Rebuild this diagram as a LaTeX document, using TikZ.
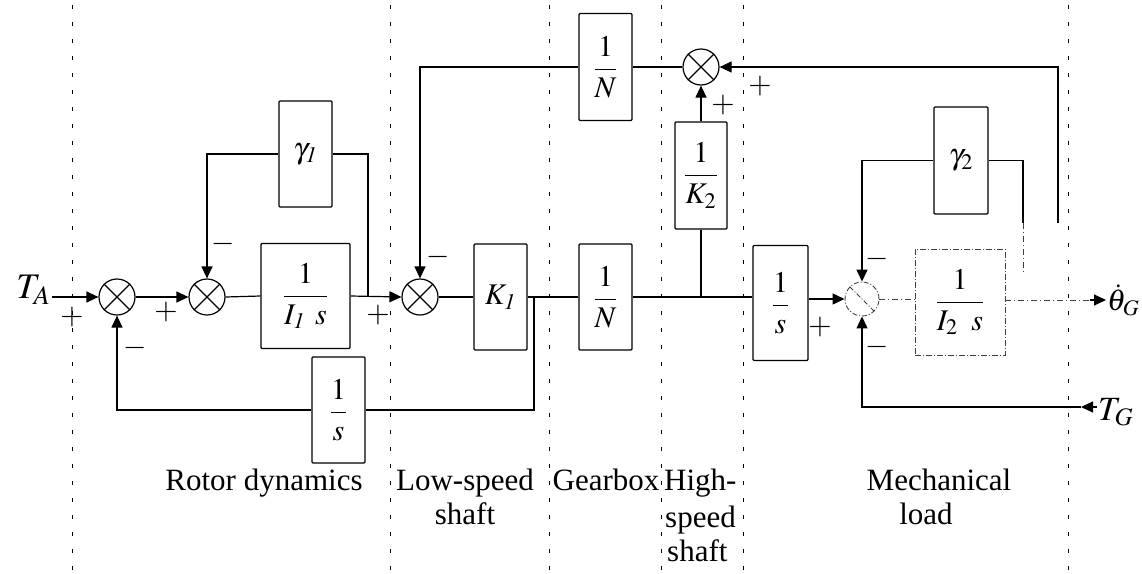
\documentclass[tikz,border=0pt]{standalone}
\usepackage{mathptmx}
\usepackage{graphicx}
\usepackage{fontspec}
\setmainfont{Liberation Serif}
\usetikzlibrary{arrows.meta}
\newcommand{\bxm}[1]{\scalebox{1.5}{\fontsize{20}{24}\selectfont$\displaystyle #1$}}
\newcommand{\iom}[2]{\scalebox{#1}{\fontsize{20}{24}\selectfont$#2$}}
\begin{document}
\begin{tikzpicture}[x=1pt,y=-1pt,
  blk/.style={draw, line width=1.3pt, inner sep=0pt, rounded corners=1pt},
  sumj/.style={draw, circle, line width=1.2pt, minimum size=36pt, inner sep=0pt},
  fsum/.style={draw=black!75, circle, line width=0.9pt, minimum size=34pt, inner sep=0pt, dash pattern=on 5pt off 2pt on 1pt off 2pt},
  fblk/.style={draw=black!75, line width=0.9pt, inner sep=0pt, dash pattern=on 6pt off 2pt on 1pt off 2pt},
  wire/.style={line width=1.2pt},
  fwire/.style={draw=black!75, line width=0.9pt, dash pattern=on 6pt off 3pt on 1pt off 3pt},
  arr/.style={wire, -{Triangle[length=12pt,width=11pt]}},
  sep/.style={line width=1pt, dash pattern=on 4pt off 13pt},
  sgn/.style={font=\fontsize{30}{30}\selectfont, inner sep=0pt},
  io/.style={inner sep=1pt},
  lbl/.style={font=\fontsize{31}{34}\selectfont, anchor=base, inner sep=0pt}
]
\useasboundingbox (0,0) rectangle (1142,573);

% section separators
\foreach \x in {72,390,549,661,743,1068}
  \draw[sep] (\x,5) -- (\x,573);

% blocks
\node[sumj] (s1) at (117,297) {};
\node[sumj] (s2) at (207,297) {};
\node[blk, minimum width=89pt, minimum height=105pt] (bI1) at (305.5,296) {\bxm{\frac{1}{I_{\mathit{1}}\;\,s}}};
\node[blk, minimum width=53pt, minimum height=106pt] (g1) at (305.5,154) {\bxm{\gamma_{\mathit{1}}}};
\node[sumj] (s3) at (420,297) {};
\node[blk, minimum width=53pt, minimum height=106pt] (K1) at (500.5,297) {\bxm{K_{\mathit{1}}}};
\node[blk, minimum width=53pt, minimum height=106pt] (N1) at (605.5,297) {\bxm{\frac{1}{N}}};
\node[blk, minimum width=53pt, minimum height=107pt] (topN) at (605.5,67) {\bxm{\frac{1}{N}}};
\node[sumj] (s5) at (701,67) {};
\node[blk, minimum width=52pt, minimum height=107pt] (K2) at (701,175.5) {\bxm{\frac{1}{K_2}}};
\node[blk, minimum width=55pt, minimum height=115pt] (S) at (780.5,303) {\bxm{\frac{1}{s}}};
\node[fsum] (s4) at (862,299) {};
\node[fblk, minimum width=90pt, minimum height=106pt] (I2) at (960,302) {\bxm{\frac{1}{I_2\;\;s}}};
\node[blk, minimum width=54pt, minimum height=107pt] (g2) at (961,160.5) {\bxm{\gamma_2}};
\node[blk, minimum width=53pt, minimum height=106pt] (fb) at (338.5,410) {\bxm{\frac{1}{s}}};

% crosses in summing junctions
\foreach \n in {s1,s2,s3,s5}
  \draw[line width=1.1pt] (\n.45) -- (\n.225) (\n.135) -- (\n.315);
\draw[draw=black!75, line width=0.9pt, dash pattern=on 5pt off 2pt on 1pt off 2pt] (s4.135) -- (s4.315);

% inputs / outputs
\node[io, anchor=east] (TA) at (52,290) {\iom{1.8}{T_A}};
\node[io, anchor=west] (thG) at (1106,300) {\iom{1.5}{\dot{\theta}_G}};
\node[io, anchor=west] (TG) at (1097,412) {\iom{1.7}{T_G}};
\coordinate (oa) at (1090,300);
\coordinate (tgtip) at (1081,407);
\coordinate (j1) at (368,297);
\coordinate (j2) at (534,297);
\coordinate (j3) at (701,297);
\coordinate (fbR) at (1058,223);
\coordinate (g2m) at (1023,223);
\coordinate (g2end) at (1023,272);

% connectors
\draw[arr] (TA.east |- s1.west) -- (s1.west);
\draw[arr] (s1.east) -- (s2.west);
\draw[wire] (s2.east) -- (bI1.west);
\draw[arr] (bI1.east) -- (s3.west);
\draw[wire] (j1) |- (g1.east);
\draw[arr] (g1.west) -| (s2.north);
\draw[wire] (s3.east) -- (K1.west);
\draw[wire] (K1.east) -- (N1.west);
\draw[wire] (j2) |- (fb.east);
\draw[arr] (fb.west) -| (s1.south);
\draw[wire] (N1.east) -- (S.west |- N1.east);
\draw[wire] (j3) -- (K2.south);
\draw[arr] (K2.north) -- (s5.south);
\draw[wire] (s5.west) -- (topN.east);
\draw[arr] (topN.west) -| (s3.north);
\draw[arr] (fbR) |- (s5.east);
\draw[arr] (S.east |- s4.west) -- (s4.west);
\draw[fwire] (s4.east) -- (I2.west |- s4.east);
\draw[fwire] (I2.east |- oa) -- (oa);
\draw[arr] (oa) -- (thG.west |- oa);
\draw[arr] (g2.west) -| (s4.north);
\draw[wire] (g2.east) -| (g2m);
\draw[fwire] (g2m) -- (g2end);
\draw[arr] (TG.west |- tgtip) -- (tgtip);
\draw[arr] (tgtip) -| (s4.south);

% signs
\node[sgn] (p1) at (72,317) {$+$};
\node[sgn] (m1) at (135,348) {$-$};
\node[sgn] (p2) at (166,312) {$+$};
\node[sgn] (m2) at (223,244) {$-$};
\node[sgn] (p3) at (378,315) {$+$};
\node[sgn] (m3) at (438,257) {$-$};
\node[sgn] (p4) at (723,105) {$+$};
\node[sgn] (p5) at (760,86) {$+$};
\node[sgn] (p6) at (820,327) {$+$};
\node[sgn] (m4) at (877,259) {$-$};
\node[sgn] (m5) at (877,347) {$-$};

% section labels
\node[lbl] (L1) at (264,490) {Rotor dynamics};
\node[lbl] (L2a) at (465,490) {Low-speed};
\node[lbl] (L2b) at (465,524) {shaft};
\node[lbl] (L3) at (606,490) {Gearbox};
\node[lbl, anchor=base west] (L4a) at (664,490) {High-};
\node[lbl, anchor=base west] (L4b) at (665,527) {speed};
\node[lbl, anchor=base west] (L4c) at (667,561) {shaft};
\node[lbl] (L5a) at (939,490) {Mechanical};
\node[lbl] (L5b) at (926,524) {load};
\end{tikzpicture}
\end{document}
